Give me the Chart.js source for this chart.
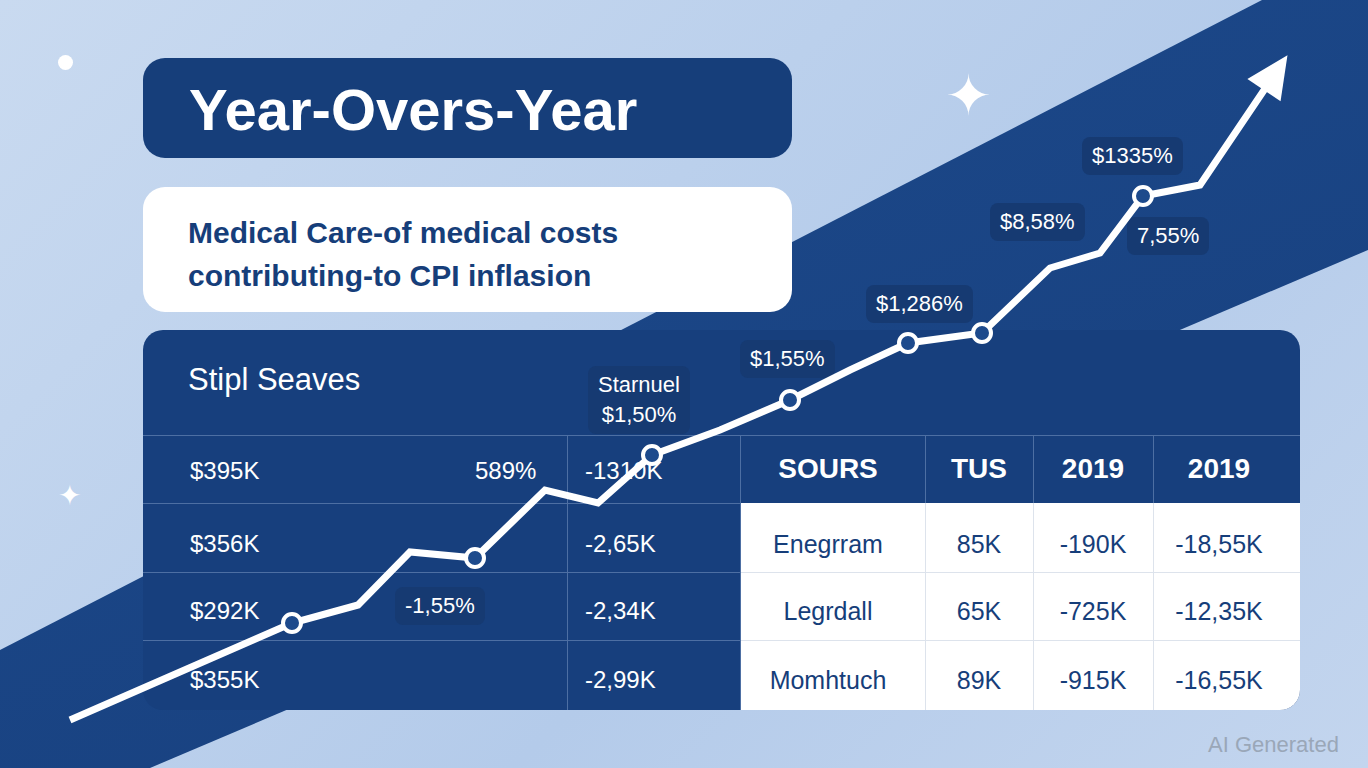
<!DOCTYPE html>
<html><head><meta charset="utf-8">
<script src="https://cdn.jsdelivr.net/npm/chart.js@4.4.1/dist/chart.umd.min.js"></script>
<style>
html,body{margin:0;padding:0;width:1368px;height:768px;overflow:hidden;font-family:"Liberation Sans",Arial,sans-serif}
#bg{position:absolute;left:0;top:0;width:1368px;height:768px;background:linear-gradient(135deg,#c9daf0 0%,#b4cbea 60%,#c3d5ee 100%)}
#band{position:absolute;left:0;top:0;width:1368px;height:768px;background:linear-gradient(160deg,#1d4a8c,#173f7d);clip-path:polygon(0 650px,1262px 0,1368px 0,1368px 250px,150px 768px,0 768px)}
.abs{position:absolute}
#title{left:143px;top:58px;width:649px;height:100px;background:#163e7a;border-radius:22px;color:#fff;font:bold 58px "Liberation Sans",Arial,sans-serif;line-height:104px;padding-left:46px;box-sizing:border-box}
#sub{left:143px;top:187px;width:649px;height:125px;background:#fff;border-radius:22px;color:#163e7a;font:bold 30px "Liberation Sans",Arial,sans-serif;padding:24px 0 0 45px;box-sizing:border-box;line-height:43px}
#panel{left:143px;top:330px;width:1157px;height:380px;background:#173f7d;border-radius:20px;overflow:hidden}
#wt{left:740px;top:503px;width:560px;height:207px;background:#fff;border-bottom-right-radius:20px}
.hl{position:absolute;height:1px;background:#4d6fa3}
.vl{position:absolute;width:1px;background:#4d6fa3}
.t{position:absolute;color:#fff;font:24px "Liberation Sans",Arial,sans-serif;white-space:nowrap}
.d{position:absolute;color:#163e7a;font:25px "Liberation Sans",Arial,sans-serif;white-space:nowrap;transform:translateX(-50%)}
.lb{position:absolute;background:#163a72;color:#fff;font:22px "Liberation Sans",Arial,sans-serif;border-radius:8px;padding:4px 10px;white-space:nowrap;text-align:center;line-height:30px}
canvas{position:absolute;left:0;top:0}
</style></head><body>
<div id="bg"></div><div id="band"></div>
<div class="abs" style="left:58px;top:55px;width:15px;height:15px;border-radius:50%;background:#fff"></div>
<div class="abs" style="left:945px;top:68px;color:#fff;font-size:56px;line-height:56px">✦</div>
<div class="abs" style="left:58px;top:482px;color:#fff;font-size:28px;line-height:28px">✦</div>
<div id="title" class="abs">Year-Overs-Year</div>
<div id="sub" class="abs">Medical Care-of medical costs<br>contributing-to CPI inflasion</div>
<div id="panel" class="abs"></div>
<div id="wt" class="abs"></div>
<div class="hl" style="left:143px;top:435px;width:1157px"></div>
<div class="hl" style="left:143px;top:503px;width:597px"></div>
<div class="hl" style="left:143px;top:572px;width:597px"></div>
<div class="hl" style="left:143px;top:640px;width:597px"></div>
<div class="hl" style="left:740px;top:572px;width:560px;background:#dde3ec"></div>
<div class="hl" style="left:740px;top:640px;width:560px;background:#dde3ec"></div>
<div class="vl" style="left:567px;top:435px;height:275px"></div>
<div class="vl" style="left:740px;top:435px;height:275px"></div>
<div class="vl" style="left:925px;top:435px;height:68px"></div>
<div class="vl" style="left:1033px;top:435px;height:68px"></div>
<div class="vl" style="left:1153px;top:435px;height:68px"></div>
<div class="vl" style="left:925px;top:503px;height:207px;background:#dde3ec"></div>
<div class="vl" style="left:1033px;top:503px;height:207px;background:#dde3ec"></div>
<div class="vl" style="left:1153px;top:503px;height:207px;background:#dde3ec"></div>
<div class="t" style="left:188px;top:362px;font-size:31px">Stipl Seaves</div>
<div id="cells"></div>
<div id="labels"></div>
<div class="abs" style="left:1208px;top:732px;color:#9aa7b8;font:22px 'Liberation Sans',Arial,sans-serif">AI Generated</div>
<canvas id="c" width="1368" height="768"></canvas>
<script>
const leftCol1=["$395K","$356K","$292K","$355K"];
const leftCol2=["-1310K","-2,65K","-2,34K","-2,99K"];
const headers=["SOURS","TUS","2019","2019"];
const rowNames=["Enegrram","Legrdall","Momhtuch"];
const tusVals=["85K","65K","89K"];
const col2019a=["-190K","-725K","-915K"];
const col2019b=["-18,55K","-12,35K","-16,55K"];
// line series (x: step, y: index value)
const xs=[70,292,358,410,475,545,598,652,720,790,850,908,982,1050,1100,1143,1200,1283];
const ys=[48,145,163,216,210,278,265,313,338,368,398,425,435,500,515,572,583,706];
const marked=[1,4,7,9,11,12,15];
const labels=[["-1,55%",395,587],["Starnuel<br>$1,50%",588,366],["$1,55%",740,340],["$1,286%",866,285],["$8,58%",990,203],["$1335%",1082,137],["7,55%",1127,217]];

let h="";const rowY=[457,530,597,666];
for(let i=0;i<4;i++){h+=`<div class="t" style="left:190px;top:${rowY[i]}px">${leftCol1[i]}</div><div class="t" style="left:585px;top:${rowY[i]}px">${leftCol2[i]}</div>`;}
h+=`<div class="t" style="left:475px;top:457px">589%</div>`;
const cx=[828,979,1093,1219];
headers.forEach((s,i)=>h+=`<div class="t" style="left:${cx[i]}px;top:453px;transform:translateX(-50%);font-size:28px;font-weight:bold">${s}</div>`);
for(let i=0;i<3;i++){const y=rowY[i+1];
h+=`<div class="d" style="left:${cx[0]}px;top:${y}px">${rowNames[i]}</div><div class="d" style="left:${cx[1]}px;top:${y}px">${tusVals[i]}</div><div class="d" style="left:${cx[2]}px;top:${y}px">${col2019a[i]}</div><div class="d" style="left:${cx[3]}px;top:${y}px">${col2019b[i]}</div>`;}
document.getElementById("cells").innerHTML=h;
document.getElementById("labels").innerHTML=labels.map(l=>`<div class="lb" style="left:${l[1]}px;top:${l[2]}px">${l[0]}</div>`).join("");

const arrow={id:"arrow",afterDatasetsDraw(ch){const m=ch.getDatasetMeta(0).data;const a=m[m.length-2],b=m[m.length-1];const ctx=ch.ctx;const ang=Math.atan2(b.y-a.y,b.x-a.x);ctx.save();ctx.translate(b.x,b.y);ctx.rotate(ang);ctx.fillStyle="#fff";ctx.beginPath();ctx.moveTo(8,0);ctx.lineTo(-34,-20);ctx.lineTo(-34,20);ctx.closePath();ctx.fill();ctx.restore();}};
new Chart(document.getElementById("c"),{type:"line",
data:{datasets:[{data:xs.map((x,i)=>({x,y:ys[i]})),borderColor:"#fff",borderWidth:7,tension:0,
pointRadius:xs.map((_,i)=>i===xs.length-1?0:(marked.includes(i)?9:0)),pointBackgroundColor:"#1d4a8c",pointBorderColor:"#fff",pointBorderWidth:4}]},
options:{responsive:false,animation:false,layout:{padding:0},plugins:{legend:{display:false},tooltip:{enabled:false}},
scales:{x:{type:"linear",display:false,min:0,max:1368},y:{display:false,min:0,max:768}}},plugins:[arrow]});
</script></body></html>
